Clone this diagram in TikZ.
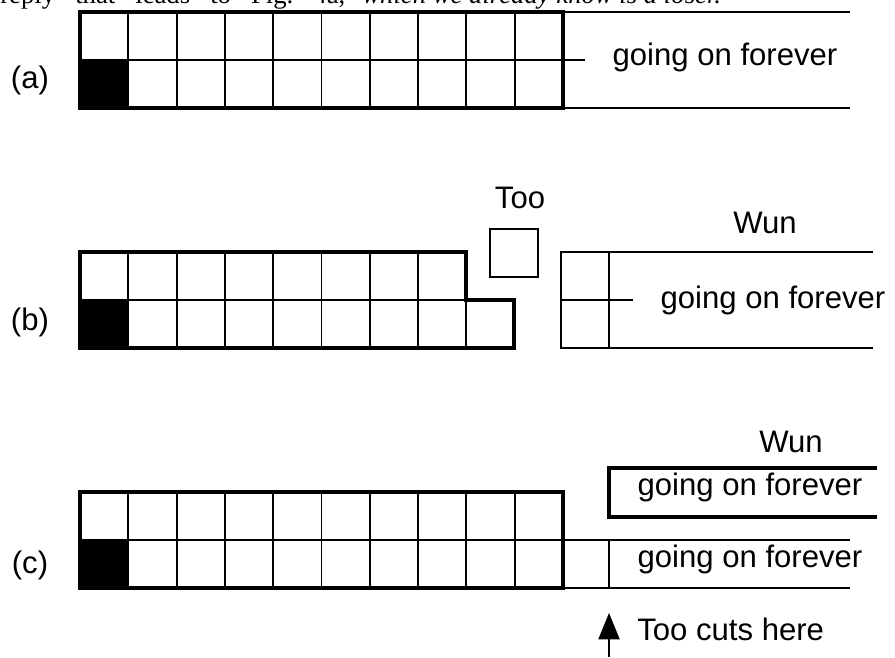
\documentclass[tikz,border=0pt]{standalone}
\usepackage{fontspec}
\setmainfont{Liberation Serif}
\setsansfont{Liberation Sans}
\usetikzlibrary{arrows.meta}

\begin{document}
\begin{tikzpicture}[x=0.02cm, y=-0.02cm,
    thin line/.style={line width=1.1pt},
    thick line/.style={line width=2.2pt, line join=miter},
    label/.style={font=\sffamily\fontsize{17.7}{20}\selectfont, inner sep=0pt, anchor=base},
    prose/.style={font=\fontsize{15.2}{18}\selectfont\frenchspacing, inner sep=0pt, anchor=base west}]
  \useasboundingbox (0,0) rectangle (895,657);

  % Line of text above the figure (cut by the page edge)
  \node[prose] (prose1) at (0,3) {\makebox[6.9cm][s]{reply that leads to Fig. 4a,}};
  \node[prose, font=\fontsize{15.2}{18}\selectfont\itshape] (prose2) at (362,3)
    {which we already know is a loser.};

  % (a) full board
  \fill (80,60) rectangle (128,108);
  \foreach \i in {1,...,9}
    \draw[thin line] ({80+48.3*\i},12) -- ++(0,96);
  \draw[thin line] (80,60) -- (563,60);
  \draw[thin line] (563,12) -- (850,12) (563,108) -- (850,108) (563,60) -- (585,60);
  \draw[thick line] (80,12) rectangle (563,108);
  \node[label] (alabel) at (30,88) {(a)};
  \node[label] (aforever) at (725,65) {going on forever};

  % (b) Too takes a square, Wun is left with a strip
  \fill (80,300) rectangle (128,348);
  \foreach \i in {1,...,7}
    \draw[thin line] ({80+48.3*\i},252) -- ++(0,96);
  \draw[thin line] (466,300) -- (466,348);
  \draw[thin line] (80,300) -- (466,300);
  \draw[thick line] (80,252) -- (466,252) -- (466,300) -- (514,300)
    -- (514,348) -- (80,348) -- cycle;
  \draw[thin line] (490,229) rectangle (538,277);
  \node[label] (too) at (520,208) {Too};
  \draw[thin line] (873,252) -- (561,252) -- (561,348) -- (873,348);
  \draw[thin line] (609,252) -- (609,348) (561,300) -- (633,300);
  \node[label] (bwun) at (765,233) {Wun};
  \node[label] (bforever) at (773,308) {going on forever};
  \node[label] (blabel) at (30,330) {(b)};

  % (c) Too cuts the strip
  \fill (80,540) rectangle (128,588);
  \foreach \i in {1,...,9}
    \draw[thin line] ({80+48.3*\i},492) -- ++(0,96);
  \draw[thin line] (80,540) -- (563,540);
  \draw[thin line] (563,540) -- (850,540) (563,588) -- (850,588) (609,540) -- (609,588);
  \draw[thick line] (80,492) rectangle (563,588);
  \draw[thick line] (877,468) -- (609,468) -- (609,517) -- (877,517);
  \node[label] (cwun) at (791,452) {Wun};
  \node[label] (ctop) at (750,495) {going on forever};
  \node[label] (cbottom) at (750,567) {going on forever};
  \node[label] (clabel) at (30,573) {(c)};

  % Cut marker
  \coordinate (cutfoot) at (609,657);
  \coordinate (cuttip) at (609,613);
  \draw[thin line, -{Triangle[width=12pt, length=15pt]}] (cutfoot) -- (cuttip);
  \node[label, anchor=base west] (cuts) at (637,640) {Too cuts here};
\end{tikzpicture}
\end{document}
